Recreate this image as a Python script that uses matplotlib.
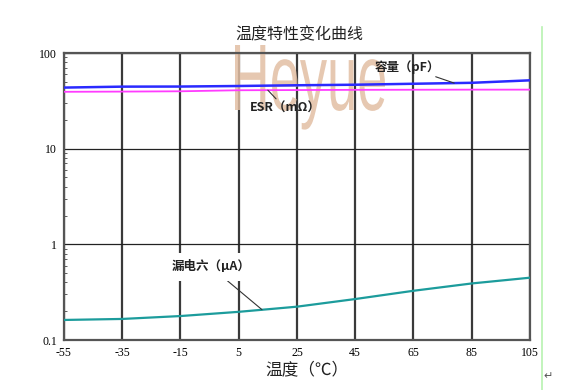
import matplotlib.pyplot as plt
import numpy as np
from matplotlib.textpath import TextPath
from matplotlib.patches import PathPatch
from matplotlib.font_manager import FontProperties
from matplotlib.transforms import Affine2D

plt.rcParams['font.family'] = ['Noto Sans CJK SC', 'DejaVu Sans']

# --- DATA ---
temps = [-55, -35, -15, 5, 25, 45, 65, 85, 105]
capacitance = [43.5, 44.5, 44.6, 45.2, 46.0, 46.6, 47.7, 48.8, 51.8]   # pF
esr = [39.3, 39.5, 39.8, 40.8, 41.0, 41.2, 41.3, 41.4, 41.4]           # mOhm
leakage = [0.162, 0.166, 0.178, 0.197, 0.223, 0.268, 0.327, 0.39, 0.448]  # uA
x_ticks = [-55, -35, -15, 5, 25, 45, 65, 85, 105]
y_ticks = [0.1, 1, 10, 100]
y_labels = ['0.1', '1', '10', '100']

fig = plt.figure(figsize=(5.8, 3.9), dpi=100)
ax = fig.add_axes([0.1103, 0.1282, 0.8034, 0.7359])

ax.plot(temps, capacitance, color='#2a2aff', lw=1.8, zorder=3)
ax.plot(temps, esr, color='#ff3cff', lw=1.3, zorder=3)
ax.plot(temps, leakage, color='#1c9c9c', lw=1.6, zorder=3)

ax.set_yscale('log')
ax.set_xlim(-55, 105)
ax.set_ylim(0.1, 100)
ax.set_xticks(x_ticks)
ax.set_xticklabels([str(t) for t in x_ticks], family='Liberation Serif', fontsize=8.5)
ax.set_yticks(y_ticks)
ax.set_yticklabels(y_labels, family='Liberation Serif', fontsize=8.5)
ax.tick_params(which='major', length=0, pad=5)
ax.tick_params(which='minor', direction='in', length=2, color='#444')
ax.yaxis.set_minor_formatter(plt.NullFormatter())

ax.grid(axis='x', color='#3a3a3a', lw=1.6, zorder=1)
ax.grid(axis='y', which='major', color='#222222', lw=0.9, zorder=1)
for s in ax.spines.values():
    s.set_color('#555555')
    s.set_linewidth(1.6)

# --- Watermark ---
fp = FontProperties(family='Liberation Sans')
tp = TextPath((0, 0), 'Heyue', size=100, prop=fp)
ext = tp.get_extents()
cap = TextPath((0, 0), 'H', size=100, prop=fp).get_extents().height
sx = 1.50 / ext.width
sy = 0.65 / cap
tr = Affine2D().translate(-ext.x0, 0).scale(sx, sy).translate(2.35, 2.80) + fig.dpi_scale_trans
wm = PathPatch(tp, transform=tr, facecolor='#e2bfa4', edgecolor='none',
               alpha=0.85, zorder=2, clip_on=False)
ax.add_artist(wm)

# --- Annotations ---
lab_font = dict(fontsize=9, fontweight='bold', color='#222222')
cap_t = 79
ax.annotate('容量（pF）', xy=(cap_t, np.interp(cap_t, temps, capacitance)),
            xytext=(-14, 16), textcoords='offset pixels', ha='right', va='center',
            arrowprops=dict(arrowstyle='-', color='#333', lw=0.8, shrinkA=0, shrinkB=0),
            zorder=4, **lab_font)
esr_t = 15
ax.annotate('ESR（mΩ）', xy=(esr_t, np.interp(esr_t, temps, esr)),
            xytext=(17, -18), textcoords='offset pixels', ha='center', va='center',
            arrowprops=dict(arrowstyle='-', color='#333', lw=0.8, shrinkA=0, shrinkB=0),
            zorder=4, **lab_font)
lk_t = 13
ax.annotate('漏电六（μA）', xy=(lk_t, np.interp(lk_t, temps, leakage)),
            xytext=(-12, 43), textcoords='offset pixels', ha='right', va='center',
            bbox=dict(boxstyle='square,pad=0.6', fc='white', ec='none'),
            arrowprops=dict(arrowstyle='-', color='#333', lw=0.8, shrinkA=0, shrinkB=0),
            zorder=4, **lab_font)

fig.text(0.517, 0.91, '温度特性变化曲线', ha='center', va='center', fontsize=11.5, color='#222')
fig.text(0.529, 0.052, '温度（℃）', ha='center', va='center', fontsize=12, color='#222')

# page edge marks from the source document
fig.add_artist(plt.Line2D([0.934, 0.934], [0.0, 0.93], transform=fig.transFigure,
                          color='#b8f2b0', lw=1.2))
fig.text(0.945, 0.035, '↵', ha='center', va='center', fontsize=8, color='#555',
         family='DejaVu Sans')

fig.savefig('out.png', dpi=100)
